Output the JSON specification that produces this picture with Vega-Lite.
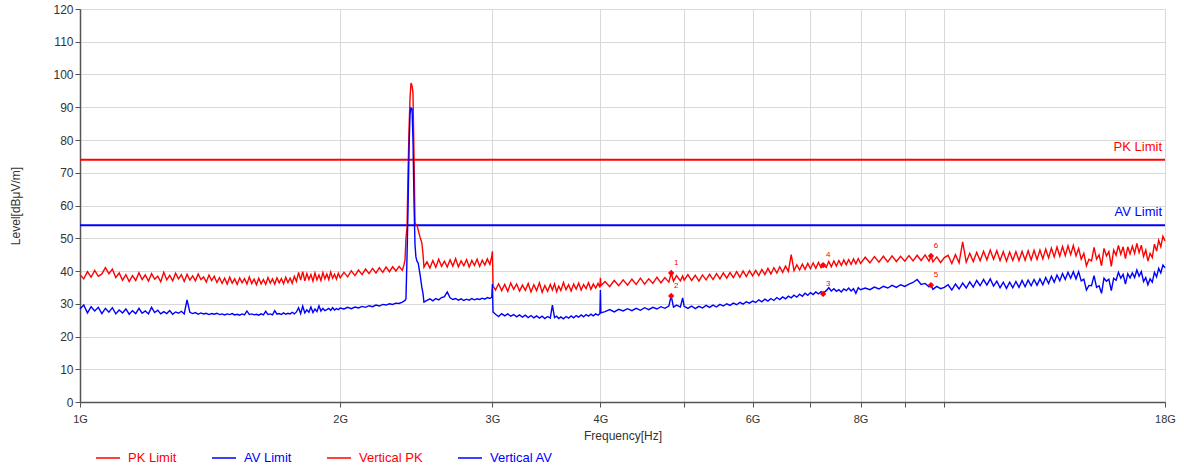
{
"$schema": "https://vega.github.io/schema/vega-lite/v6.json",
"width": 1085, "height": 393,
"autosize": {"type": "none"},
"padding": {"left": 80, "top": 9, "right": 19, "bottom": 66},
"background": "white",
"config": {
 "view": {"stroke": null},
 "font": "Liberation Sans",
 "axis": {"labelFont": "Liberation Sans", "labelFontSize": 11, "labelColor": "#333", "titleFont": "Liberation Sans", "titleFontSize": 12, "titleFontWeight": "normal", "titleColor": "#333", "gridColor": "#d9d9d9", "gridWidth": 1, "domainColor": "#555", "domainWidth": 1.5, "tickColor": "#555", "tickSize": 5}
},
"datasets": {
 "lim": [{"s": "PKL", "v": 74, "t": "PK Limit"}, {"s": "AVL", "v": 54, "t": "AV Limit"}],
 "mk": [{"f": 4.83, "v": 39.4, "n": "1"}, {"f": 4.83, "v": 32.4, "n": "2"}, {"f": 7.24, "v": 33.0, "n": "3"}, {"f": 7.24, "v": 41.8, "n": "4"}, {"f": 9.65, "v": 35.7, "n": "5"}, {"f": 9.65, "v": 44.6, "n": "6"}],
 "tr": [
{"f":1.00,"p":38.9,"a":28.4},{"f":1.01,"p":37.6,"a":29.6},{"f":1.02,"p":39.8,"a":27.2},{"f":1.03,"p":38.1,"a":29.1},{"f":1.04,"p":40.2,"a":27.8},
{"f":1.05,"p":38.4,"a":28.9},{"f":1.06,"p":39.1,"a":27.0},{"f":1.07,"p":41.0,"a":28.6},{"f":1.08,"p":39.2,"a":27.4},{"f":1.09,"p":40.6,"a":28.8},
{"f":1.10,"p":38.0,"a":26.9},{"f":1.11,"p":39.4,"a":28.1},{"f":1.12,"p":37.2,"a":27.2},{"f":1.13,"p":38.9,"a":28.4},{"f":1.14,"p":36.8,"a":26.8},
{"f":1.15,"p":38.6,"a":27.9},{"f":1.16,"p":37.1,"a":27.0},{"f":1.17,"p":39.5,"a":28.6},{"f":1.18,"p":37.4,"a":27.1},{"f":1.19,"p":38.8,"a":27.8},
{"f":1.20,"p":36.9,"a":26.9},{"f":1.21,"p":39.2,"a":28.9},{"f":1.22,"p":37.5,"a":27.3},{"f":1.23,"p":38.4,"a":28.0},{"f":1.24,"p":36.7,"a":26.9},
{"f":1.25,"p":39.6,"a":27.6},{"f":1.26,"p":37.3,"a":27.0},{"f":1.27,"p":38.7,"a":27.9},{"f":1.28,"p":37.0,"a":26.8},{"f":1.29,"p":39.3,"a":27.5},
{"f":1.30,"p":37.6,"a":27.1},{"f":1.31,"p":38.9,"a":27.7},{"f":1.32,"p":36.8,"a":26.9},{"f":1.33,"p":39.0,"a":31.2},{"f":1.34,"p":37.2,"a":27.4},
{"f":1.35,"p":38.5,"a":27.0},{"f":1.36,"p":37.0,"a":27.3},{"f":1.37,"p":39.1,"a":26.8},{"f":1.38,"p":37.4,"a":27.2},{"f":1.39,"p":38.2,"a":26.9},
{"f":1.40,"p":36.6,"a":27.1},{"f":1.41,"p":38.8,"a":26.7},{"f":1.42,"p":37.1,"a":27.0},{"f":1.43,"p":38.4,"a":26.8},{"f":1.44,"p":36.5,"a":27.1},
{"f":1.45,"p":38.0,"a":26.7},{"f":1.46,"p":36.2,"a":26.9},{"f":1.47,"p":37.8,"a":26.6},{"f":1.48,"p":36.0,"a":26.9},{"f":1.49,"p":38.1,"a":26.7},
{"f":1.50,"p":36.3,"a":27.0},{"f":1.51,"p":37.6,"a":26.6},{"f":1.52,"p":35.9,"a":26.8},{"f":1.53,"p":37.9,"a":26.5},{"f":1.54,"p":36.4,"a":26.9},
{"f":1.55,"p":37.7,"a":26.6},{"f":1.56,"p":36.0,"a":27.8},{"f":1.57,"p":38.2,"a":26.7},{"f":1.58,"p":36.2,"a":26.9},{"f":1.59,"p":37.5,"a":26.6},
{"f":1.60,"p":35.8,"a":26.8},{"f":1.61,"p":37.8,"a":26.5},{"f":1.62,"p":36.1,"a":26.9},{"f":1.63,"p":37.4,"a":26.6},{"f":1.64,"p":35.9,"a":27.7},
{"f":1.65,"p":38.0,"a":26.7},{"f":1.66,"p":36.3,"a":26.9},{"f":1.67,"p":37.6,"a":26.6},{"f":1.68,"p":36.0,"a":27.9},{"f":1.69,"p":37.9,"a":26.8},
{"f":1.70,"p":36.4,"a":27.0},{"f":1.71,"p":37.7,"a":26.7},{"f":1.72,"p":36.1,"a":27.2},{"f":1.73,"p":38.1,"a":26.8},{"f":1.74,"p":36.5,"a":27.1},
{"f":1.75,"p":37.8,"a":26.9},{"f":1.76,"p":36.3,"a":27.4},{"f":1.77,"p":38.4,"a":26.9},{"f":1.78,"p":36.8,"a":27.5},{"f":1.79,"p":39.6,"a":28.8},
{"f":1.80,"p":37.2,"a":27.0},{"f":1.81,"p":39.8,"a":29.3},{"f":1.82,"p":37.0,"a":27.2},{"f":1.83,"p":39.2,"a":28.1},{"f":1.84,"p":37.4,"a":27.4},
{"f":1.85,"p":38.9,"a":29.0},{"f":1.86,"p":36.9,"a":27.3},{"f":1.87,"p":39.4,"a":28.4},{"f":1.88,"p":37.3,"a":27.6},{"f":1.89,"p":38.8,"a":29.4},
{"f":1.90,"p":37.1,"a":27.8},{"f":1.91,"p":39.5,"a":28.6},{"f":1.92,"p":37.6,"a":27.9},{"f":1.93,"p":39.1,"a":28.2},{"f":1.94,"p":37.4,"a":28.6},
{"f":1.95,"p":39.7,"a":28.0},{"f":1.96,"p":37.8,"a":28.8},{"f":1.97,"p":39.0,"a":28.1},{"f":1.98,"p":37.5,"a":28.5},{"f":1.99,"p":39.3,"a":28.2},
{"f":2.00,"p":37.9,"a":28.7},
{"f":2.02,"p":39.6,"a":28.4},{"f":2.04,"p":38.2,"a":28.9},{"f":2.06,"p":40.1,"a":28.5},{"f":2.08,"p":38.6,"a":29.0},{"f":2.10,"p":40.3,"a":28.7},
{"f":2.12,"p":38.9,"a":29.2},{"f":2.14,"p":40.6,"a":28.9},{"f":2.16,"p":39.2,"a":29.4},{"f":2.18,"p":40.8,"a":29.1},{"f":2.20,"p":39.4,"a":29.6},
{"f":2.22,"p":41.0,"a":29.3},{"f":2.24,"p":39.6,"a":29.8},{"f":2.26,"p":41.2,"a":29.6},{"f":2.28,"p":39.8,"a":30.0},{"f":2.30,"p":41.3,"a":29.8},
{"f":2.32,"p":40.0,"a":30.2},{"f":2.34,"p":41.4,"a":30.1},{"f":2.36,"p":40.2,"a":30.5},
{"f":2.37,"p":41.8,"a":30.8},{"f":2.377,"p":43.4,"a":31.0},{"f":2.383,"p":50.0,"a":31.5},{"f":2.39,"p":53.5,"a":45.0},{"f":2.396,"p":70.0,"a":58.6},
{"f":2.403,"p":84.0,"a":78.0},{"f":2.409,"p":93.0,"a":88.0},{"f":2.415,"p":97.4,"a":89.8},{"f":2.422,"p":96.5,"a":89.5},{"f":2.428,"p":94.3,"a":80.0},
{"f":2.435,"p":74.0,"a":60.0},{"f":2.441,"p":54.6,"a":48.0},{"f":2.447,"p":54.3,"a":44.3},{"f":2.454,"p":54.0,"a":43.0},{"f":2.462,"p":52.5,"a":42.4},
{"f":2.474,"p":50.4,"a":39.0},{"f":2.486,"p":48.5,"a":35.0},{"f":2.493,"p":45.5,"a":33.3},{"f":2.50,"p":41.2,"a":30.5},
{"f":2.52,"p":42.8,"a":31.0},{"f":2.54,"p":40.9,"a":31.5},{"f":2.56,"p":43.2,"a":30.9},{"f":2.58,"p":41.1,"a":31.6},{"f":2.60,"p":43.6,"a":31.2},
{"f":2.62,"p":41.4,"a":31.9},{"f":2.64,"p":43.0,"a":32.2},{"f":2.66,"p":41.2,"a":33.6},{"f":2.68,"p":43.4,"a":31.8},{"f":2.70,"p":41.5,"a":31.3},
{"f":2.72,"p":43.8,"a":31.6},{"f":2.74,"p":41.3,"a":31.1},{"f":2.76,"p":43.1,"a":31.5},{"f":2.78,"p":41.6,"a":31.0},{"f":2.80,"p":43.5,"a":31.4},
{"f":2.82,"p":41.2,"a":31.1},{"f":2.84,"p":43.2,"a":31.6},{"f":2.86,"p":41.7,"a":31.2},{"f":2.88,"p":43.6,"a":31.5},{"f":2.90,"p":41.4,"a":31.3},
{"f":2.92,"p":43.3,"a":31.7},{"f":2.94,"p":41.8,"a":31.4},{"f":2.96,"p":43.7,"a":31.9},{"f":2.98,"p":42.0,"a":31.6},{"f":2.995,"p":44.5,"a":32.0},
{"f":3.00,"p":46.0,"a":36.0},{"f":3.005,"p":35.5,"a":27.5},
{"f":3.025,"p":34.2,"a":26.8},{"f":3.05,"p":36.1,"a":26.1},{"f":3.075,"p":34.0,"a":27.0},{"f":3.10,"p":35.9,"a":26.3},{"f":3.125,"p":33.8,"a":26.9},
{"f":3.15,"p":36.3,"a":26.2},{"f":3.175,"p":34.4,"a":26.7},{"f":3.20,"p":36.0,"a":26.0},{"f":3.225,"p":33.9,"a":26.6},{"f":3.25,"p":35.7,"a":25.9},
{"f":3.275,"p":34.1,"a":26.5},{"f":3.30,"p":36.2,"a":25.8},{"f":3.325,"p":33.6,"a":26.4},{"f":3.35,"p":35.8,"a":25.7},{"f":3.375,"p":34.0,"a":26.3},
{"f":3.40,"p":36.4,"a":25.6},{"f":3.425,"p":33.5,"a":26.2},{"f":3.45,"p":35.6,"a":25.5},{"f":3.475,"p":33.8,"a":26.1},{"f":3.50,"p":35.9,"a":25.6},
{"f":3.52,"p":34.2,"a":29.6},{"f":3.54,"p":36.1,"a":25.8},{"f":3.56,"p":33.7,"a":26.2},{"f":3.58,"p":35.4,"a":25.5},{"f":3.60,"p":34.0,"a":26.0},
{"f":3.625,"p":36.5,"a":25.4},{"f":3.65,"p":34.3,"a":26.1},{"f":3.675,"p":35.8,"a":25.6},{"f":3.70,"p":33.9,"a":26.3},{"f":3.725,"p":36.0,"a":25.7},
{"f":3.75,"p":34.5,"a":26.4},{"f":3.775,"p":36.3,"a":25.9},{"f":3.80,"p":34.2,"a":26.6},{"f":3.825,"p":35.9,"a":26.0},{"f":3.85,"p":34.6,"a":26.7},
{"f":3.875,"p":36.4,"a":26.2},{"f":3.90,"p":34.4,"a":26.8},{"f":3.925,"p":36.0,"a":26.3},{"f":3.95,"p":34.8,"a":26.9},{"f":3.975,"p":36.2,"a":26.5},
{"f":3.995,"p":35.0,"a":27.0},{"f":4.00,"p":37.9,"a":34.2},{"f":4.005,"p":35.5,"a":27.2},
{"f":4.05,"p":36.8,"a":27.6},{"f":4.10,"p":35.2,"a":28.2},{"f":4.15,"p":37.1,"a":27.5},{"f":4.20,"p":35.5,"a":28.3},{"f":4.25,"p":37.3,"a":27.8},
{"f":4.30,"p":35.7,"a":28.5},{"f":4.35,"p":37.5,"a":27.9},{"f":4.40,"p":35.9,"a":28.6},{"f":4.45,"p":37.8,"a":28.0},{"f":4.50,"p":36.0,"a":28.8},
{"f":4.55,"p":37.6,"a":28.2},{"f":4.60,"p":36.2,"a":28.9},{"f":4.65,"p":38.1,"a":28.4},{"f":4.70,"p":36.4,"a":29.1},{"f":4.75,"p":38.0,"a":28.6},
{"f":4.80,"p":36.6,"a":29.3},{"f":4.83,"p":39.4,"a":32.4},{"f":4.86,"p":36.9,"a":29.0},{"f":4.90,"p":38.6,"a":29.6},{"f":4.95,"p":37.0,"a":29.0},
{"f":4.98,"p":38.5,"a":31.8},{"f":5.00,"p":37.2,"a":29.2},
{"f":5.05,"p":38.9,"a":28.6},{"f":5.10,"p":37.1,"a":29.3},{"f":5.15,"p":38.7,"a":28.5},{"f":5.20,"p":36.9,"a":29.2},{"f":5.25,"p":38.8,"a":28.7},
{"f":5.30,"p":37.3,"a":29.5},{"f":5.35,"p":39.0,"a":28.9},{"f":5.40,"p":37.4,"a":29.6},{"f":5.45,"p":39.2,"a":29.0},{"f":5.50,"p":37.6,"a":29.8},
{"f":5.55,"p":39.4,"a":29.3},{"f":5.60,"p":37.8,"a":30.0},{"f":5.65,"p":39.5,"a":29.5},{"f":5.70,"p":38.0,"a":30.2},{"f":5.75,"p":39.8,"a":29.7},
{"f":5.80,"p":38.1,"a":30.4},{"f":5.85,"p":40.0,"a":29.9},{"f":5.90,"p":38.3,"a":30.6},{"f":5.95,"p":40.1,"a":30.2},{"f":6.00,"p":38.5,"a":30.8},
{"f":6.05,"p":40.2,"a":30.4},{"f":6.10,"p":38.6,"a":31.2},{"f":6.15,"p":40.5,"a":30.6},{"f":6.20,"p":38.9,"a":31.4},{"f":6.25,"p":40.8,"a":30.8},
{"f":6.30,"p":39.1,"a":31.6},{"f":6.35,"p":41.0,"a":31.0},{"f":6.40,"p":39.4,"a":31.9},{"f":6.45,"p":41.3,"a":31.3},{"f":6.50,"p":39.6,"a":32.1},
{"f":6.55,"p":41.5,"a":31.5},{"f":6.60,"p":39.9,"a":32.3},{"f":6.65,"p":45.0,"a":31.8},{"f":6.70,"p":40.1,"a":32.6},{"f":6.75,"p":41.9,"a":32.0},
{"f":6.80,"p":40.3,"a":32.9},{"f":6.85,"p":42.1,"a":32.3},{"f":6.90,"p":40.5,"a":33.2},{"f":6.95,"p":42.3,"a":32.6},{"f":7.00,"p":40.7,"a":33.4},
{"f":7.05,"p":42.5,"a":32.8},{"f":7.10,"p":40.8,"a":33.6},{"f":7.15,"p":42.6,"a":33.0},{"f":7.20,"p":41.0,"a":33.7},{"f":7.24,"p":41.8,"a":33.2},
{"f":7.30,"p":41.1,"a":34.0},{"f":7.35,"p":42.9,"a":34.9},{"f":7.40,"p":41.3,"a":33.9},{"f":7.45,"p":43.1,"a":34.6},{"f":7.50,"p":41.5,"a":33.8},
{"f":7.55,"p":43.2,"a":34.3},{"f":7.60,"p":41.7,"a":33.6},{"f":7.65,"p":43.4,"a":34.5},{"f":7.70,"p":41.9,"a":34.0},{"f":7.75,"p":43.5,"a":34.8},
{"f":7.80,"p":42.0,"a":33.9},{"f":7.85,"p":43.7,"a":34.6},{"f":7.90,"p":42.2,"a":33.2},{"f":7.95,"p":43.8,"a":34.9},{"f":8.00,"p":42.3,"a":34.3},
{"f":8.1,"p":44.2,"a":34.8},{"f":8.2,"p":42.5,"a":34.3},{"f":8.3,"p":44.4,"a":35.1},{"f":8.4,"p":42.7,"a":34.5},{"f":8.5,"p":44.5,"a":35.3},
{"f":8.6,"p":42.8,"a":34.8},{"f":8.7,"p":44.6,"a":35.6},{"f":8.8,"p":42.9,"a":35.0},{"f":8.9,"p":44.5,"a":35.8},{"f":9.0,"p":43.0,"a":35.3},
{"f":9.1,"p":44.7,"a":36.0},{"f":9.2,"p":43.1,"a":36.5},{"f":9.3,"p":44.8,"a":37.4},{"f":9.4,"p":43.2,"a":35.9},{"f":9.5,"p":44.9,"a":36.2},
{"f":9.6,"p":43.0,"a":35.2},{"f":9.65,"p":44.6,"a":35.7},{"f":9.7,"p":42.8,"a":34.4},{"f":9.8,"p":44.3,"a":35.3},{"f":9.9,"p":42.6,"a":34.6},
{"f":10.0,"p":44.1,"a":35.0},
{"f":10.1,"p":44.8,"a":35.8},{"f":10.2,"p":42.3,"a":34.2},{"f":10.3,"p":45.0,"a":36.0},{"f":10.4,"p":42.5,"a":34.5},{"f":10.5,"p":48.9,"a":36.3},
{"f":10.6,"p":42.7,"a":34.8},{"f":10.7,"p":45.4,"a":36.7},{"f":10.8,"p":42.9,"a":35.1},{"f":10.9,"p":45.7,"a":37.1},{"f":11.0,"p":43.1,"a":35.5},
{"f":11.1,"p":46.0,"a":37.4},{"f":11.2,"p":43.4,"a":35.7},{"f":11.3,"p":46.4,"a":37.6},{"f":11.4,"p":43.6,"a":35.4},{"f":11.5,"p":46.2,"a":36.9},
{"f":11.6,"p":43.2,"a":34.9},{"f":11.7,"p":45.9,"a":36.6},{"f":11.8,"p":43.0,"a":34.7},{"f":11.9,"p":45.8,"a":36.6},{"f":12.0,"p":43.2,"a":34.9},
{"f":12.1,"p":45.9,"a":36.8},{"f":12.2,"p":43.2,"a":35.0},{"f":12.3,"p":46.0,"a":37.1},{"f":12.4,"p":43.3,"a":35.2},{"f":12.5,"p":46.2,"a":37.2},
{"f":12.6,"p":43.4,"a":35.5},{"f":12.7,"p":46.3,"a":37.4},{"f":12.8,"p":43.5,"a":35.6},{"f":12.9,"p":46.4,"a":37.6},{"f":13.0,"p":43.7,"a":35.8},
{"f":13.1,"p":46.7,"a":38.0},{"f":13.2,"p":44.0,"a":36.2},{"f":13.3,"p":47.0,"a":38.4},{"f":13.4,"p":44.3,"a":36.6},{"f":13.5,"p":47.3,"a":38.8},
{"f":13.6,"p":44.5,"a":37.0},{"f":13.7,"p":47.5,"a":39.2},{"f":13.8,"p":44.7,"a":37.4},{"f":13.9,"p":47.7,"a":39.6},{"f":14.0,"p":45.0,"a":37.8},
{"f":14.1,"p":47.8,"a":39.8},{"f":14.2,"p":44.6,"a":37.6},{"f":14.3,"p":46.9,"a":39.8},{"f":14.4,"p":43.6,"a":37.0},{"f":14.5,"p":45.4,"a":37.5},
{"f":14.6,"p":41.6,"a":34.2},{"f":14.7,"p":43.6,"a":35.6},{"f":14.8,"p":43.1,"a":35.5},{"f":14.9,"p":47.2,"a":38.6},{"f":15.0,"p":43.6,"a":35.0},
{"f":15.1,"p":44.9,"a":35.5},{"f":15.2,"p":41.6,"a":33.2},{"f":15.3,"p":46.9,"a":37.8},{"f":15.4,"p":44.6,"a":36.9},{"f":15.5,"p":45.9,"a":37.5},
{"f":15.6,"p":41.4,"a":34.0},{"f":15.7,"p":46.4,"a":37.8},{"f":15.8,"p":44.8,"a":37.2},{"f":15.9,"p":47.8,"a":39.6},{"f":16.0,"p":45.1,"a":37.8},
{"f":16.1,"p":47.4,"a":39.0},{"f":16.2,"p":43.8,"a":36.0},{"f":16.3,"p":47.4,"a":39.2},{"f":16.4,"p":45.2,"a":37.9},{"f":16.5,"p":47.6,"a":39.4},
{"f":16.6,"p":45.4,"a":38.0},{"f":16.7,"p":48.4,"a":40.3},{"f":16.8,"p":45.6,"a":38.4},{"f":16.9,"p":47.9,"a":39.8},{"f":17.0,"p":44.4,"a":36.8},
{"f":17.1,"p":46.4,"a":38.0},{"f":17.2,"p":43.0,"a":35.8},{"f":17.3,"p":45.4,"a":37.6},{"f":17.4,"p":44.1,"a":36.6},{"f":17.5,"p":48.2,"a":39.6},
{"f":17.6,"p":46.1,"a":38.2},{"f":17.7,"p":49.4,"a":40.8},{"f":17.8,"p":47.4,"a":39.4},{"f":17.9,"p":50.6,"a":41.8},{"f":18.0,"p":49.2,"a":41.0}
 ]
},
"encoding": {
 "y": {"field": "v", "type": "quantitative", "scale": {"domain": [0, 120], "nice": false},
  "axis": {"values": [0, 10, 20, 30, 40, 50, 60, 70, 80, 90, 100, 110, 120], "tickCount": 30, "labelOverlap": false, "labelFontSize": 12, "title": "Level[dBμV/m]", "titlePadding": 30, "grid": true}}
},
"layer": [
 {
  "data": {"name": "lim"},
  "mark": {"type": "rule", "strokeWidth": 2},
  "encoding": {
   "color": {"field": "s", "type": "nominal", "scale": {"domain": ["PKL", "AVL", "p", "a"], "range": ["#ff0000", "#0000ff", "#ff0000", "#0000ff"]}}
  }
 },
 {
  "data": {"name": "tr"},
  "transform": [{"fold": ["p", "a"], "as": ["s", "v"]}],
  "mark": {"type": "line", "strokeWidth": 1.4},
  "encoding": {
   "x": {"field": "f", "type": "quantitative", "scale": {"type": "log", "domain": [1, 18], "nice": false},
    "axis": {"values": [1, 2, 3, 4, 5, 6, 7, 8, 9, 10, 18], "tickCount": 30, "labelExpr": "indexof([1,2,3,4,6,8,18], datum.value) >= 0 ? datum.value + 'G' : ''", "labelFlush": false, "labelOverlap": false, "labelPadding": 6, "title": "Frequency[Hz]", "titlePadding": 6, "grid": true}},
   "color": {"field": "s", "type": "nominal", "scale": {"domain": ["PKL", "AVL", "p", "a"], "range": ["#ff0000", "#0000ff", "#ff0000", "#0000ff"]},
    "legend": {"orient": "none", "legendX": 15, "legendY": 436, "direction": "horizontal", "columns": 4, "title": null, "symbolType": "stroke", "symbolSize": 576, "symbolStrokeWidth": 1.5, "labelFontSize": 13, "labelFont": "Liberation Sans", "labelOffset": 7, "columnPadding": 32, "padding": 0,
     "labelExpr": "datum.value == 'PKL' ? 'PK Limit' : datum.value == 'AVL' ? 'AV Limit' : datum.value == 'p' ? 'Vertical PK' : 'Vertical AV'",
     "labelColor": {"expr": "datum.value == 'PKL' || datum.value == 'p' ? '#ff0000' : '#0000ff'"}}}
  }
 },
 {
  "data": {"name": "lim"},
  "mark": {"type": "text", "align": "right", "baseline": "middle", "dx": -3, "dy": -13, "fontSize": 13, "font": "Liberation Sans"},
  "encoding": {
   "x": {"datum": 18, "type": "quantitative"},
   "text": {"field": "t"},
   "color": {"condition": {"test": "datum.s == 'PKL'", "value": "#ff0000"}, "value": "#0000ff"}
  }
 },
 {
  "data": {"name": "mk"},
  "mark": {"type": "point", "shape": "diamond", "filled": true, "size": 40, "color": "#ff0000", "opacity": 1},
  "encoding": {
   "x": {"field": "f", "type": "quantitative"}
  }
 },
 {
  "data": {"name": "mk"},
  "mark": {"type": "text", "dx": 5, "dy": -10, "fontSize": 8, "color": "#ff0000", "font": "Liberation Sans"},
  "encoding": {
   "x": {"field": "f", "type": "quantitative"},
   "text": {"field": "n"}
  }
 }
]
}
